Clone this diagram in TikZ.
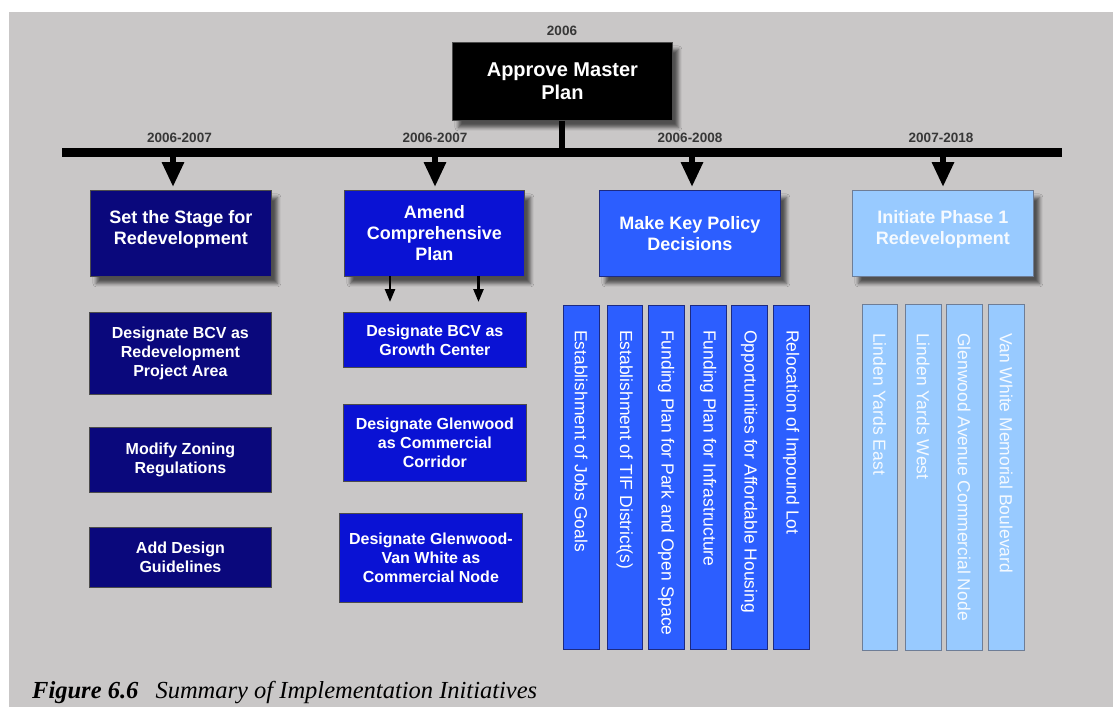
\documentclass[tikz,border=0pt]{standalone}
\usepackage{fontspec}
\newfontfamily\sans{Liberation Sans}
\newfontfamily\capserif{Liberation Serif}
\usetikzlibrary{arrows.meta,shadows.blur}
\definecolor{bg}{RGB}{201,199,199}
\definecolor{navy}{RGB}{10,8,124}
\definecolor{royal}{RGB}{10,18,212}
\definecolor{mid}{RGB}{44,94,255}
\definecolor{light}{RGB}{152,202,255}
\definecolor{lightedge}{RGB}{110,125,150}
\definecolor{midedge}{RGB}{28,42,130}
\definecolor{yeartxt}{RGB}{55,55,55}
\tikzset{
 box/.style={rectangle, inner sep=0pt, align=center, text=white, anchor=north west,
   font=\sans\bfseries\fontsize{18}{21}\selectfont, draw=black!70, line width=0.8pt},
 shad/.style={blur shadow={shadow xshift=6pt, shadow yshift=-7pt, shadow blur radius=3.5pt, shadow opacity=60}},
 sub/.style={box, font=\sans\bfseries\fontsize{16}{19}\selectfont},
 vbar/.style={rectangle, inner sep=0pt, anchor=north west, minimum width=35.5pt, line width=0.9pt},
 vtext/.style={rotate=-90, anchor=west, text=white, font=\sans\fontsize{17.5}{20}\selectfont, inner sep=0pt},
 year/.style={font=\sans\bfseries\fontsize{13.5}{15}\selectfont, text=yeartxt},
 bigarrow/.style={line width=6pt, -{Triangle[width=21pt,length=25pt]}},
 smallarrow/.style={line width=2.5pt, -{Triangle[width=10pt,length=13pt]}},
}
\begin{document}
\begin{tikzpicture}[x=1pt,y=-1pt]
\useasboundingbox (0,0) rectangle (1113,707);
\fill[white] (0,0) rectangle (1113,707);
\fill[bg] (8.6,12) rectangle (1113,707);

% master
\node[year] (ymaster) at (562,31) {2006};
\node[box, shad, fill=black, minimum width=220pt, minimum height=78pt,
  font=\sans\bfseries\fontsize{20}{23}\selectfont] (master) at (452,42) {Approve Master\\Plan};

% timeline bar
\coordinate (barL) at (62,152.5);
\coordinate (barR) at (1062,152.5);
\draw[line width=8.5pt] (barL) -- (barR);
\coordinate (stem) at (562,152.5);
\draw[line width=5.5pt] (master.south -| stem) -- (stem);

% year labels
\node[year] (y1) at (179.5,138) {2006-2007};
\node[year] (y2) at (435,138) {2006-2007};
\node[year] (y3) at (690,138) {2006-2008};
\node[year] (y4) at (941,138) {2007-2018};

% top boxes
\node[box, shad, fill=navy, minimum width=181pt, minimum height=86pt, text depth=12pt] (t1) at (90,190) {Set the Stage for\\Redevelopment};
\node[box, shad, fill=royal, minimum width=180pt, minimum height=86pt] (t2) at (344,190) {Amend\\Comprehensive\\Plan};
\node[box, shad, fill=mid, draw=midedge, minimum width=181pt, minimum height=86pt] (t3) at (599,190) {Make Key Policy\\Decisions};
\node[box, shad, fill=light, draw=lightedge, minimum width=181pt, minimum height=86pt, text depth=12pt, text=white!90!light] (t4) at (852,190) {Initiate Phase 1\\Redevelopment};

% arrows from bar
\coordinate (a1) at (173,156);
\coordinate (a2) at (435,156);
\coordinate (a3) at (692,156);
\coordinate (a4) at (943,156);
\draw[bigarrow, shorten >=3pt] (a1) -- (a1 |- t1.north);
\draw[bigarrow, shorten >=3pt] (a2) -- (a2 |- t2.north);
\draw[bigarrow, shorten >=3pt] (a3) -- (a3 |- t3.north);
\draw[bigarrow, shorten >=3pt] (a4) -- (a4 |- t4.north);

% left column
\node[sub, fill=navy, minimum width=182pt, minimum height=82pt] (l1) at (89,312) {Designate BCV as\\Redevelopment\\Project Area};
\node[sub, fill=navy, minimum width=182pt, minimum height=65pt] (l2) at (89,427) {Modify Zoning\\Regulations};
\node[sub, fill=navy, minimum width=182pt, minimum height=60pt] (l3) at (89,527) {Add Design\\Guidelines};

% second column
\node[sub, fill=royal, minimum width=183pt, minimum height=55pt] (c1) at (343,312) {Designate BCV as\\Growth Center};
\node[sub, fill=royal, minimum width=183pt, minimum height=77pt] (c2) at (343,404) {Designate Glenwood\\as Commercial\\Corridor};
\node[sub, fill=royal, minimum width=183pt, minimum height=89pt] (c3) at (339,513) {Designate Glenwood-\\Van White as\\Commercial Node};

\coordinate (s1) at (390,276);
\coordinate (s2) at (478.5,276);
\draw[smallarrow, shorten >=10pt] (s1) -- (s1 |- c1.north);
\draw[smallarrow, shorten >=10pt] (s2) -- (s2 |- c1.north);

% policy bars
\foreach \n/\x/\t in {1/563/Establishment of Jobs Goals,
                      2/606.5/Establishment of TIF District(s),
                      3/648/Funding Plan for Park and Open Space,
                      4/690/Funding Plan for Infrastructure,
                      5/731/Opportunities for Affordable Housing,
                      6/773/Relocation of Impound Lot}{
  \node[vbar, fill=mid, draw=midedge, minimum height=344pt] (p\n) at (\x,305) {};
  \node[vtext] (pt\n) at ([yshift=-25pt]p\n.north) {\t};
}

% phase bars
\foreach \n/\x/\t in {1/861.5/Linden Yards East,
                      2/905/Linden Yards West,
                      3/946/Glenwood Avenue Commercial Node,
                      4/988/Van White Memorial Boulevard}{
  \node[vbar, fill=light, draw=lightedge, minimum height=346pt] (q\n) at (\x,304) {};
  \node[vtext, text=white!90!light] (qt\n) at ([yshift=-29pt]q\n.north) {\t};
}

% caption
\node[anchor=base west, inner sep=0pt, font=\capserif\itshape\fontsize{24.5}{28}\selectfont] (cap) at (32,698)
  {\textbf{Figure 6.6}\hspace{0.7em}Summary of Implementation Initiatives};
\end{tikzpicture}
\end{document}
